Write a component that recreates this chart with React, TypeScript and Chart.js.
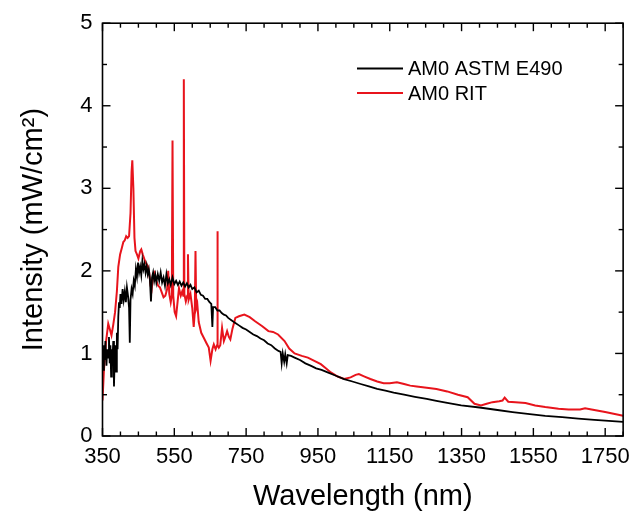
import React, { useEffect, useRef } from "react";
import { Chart, registerables } from "chart.js";

Chart.register(...registerables);

const FONT = "'Liberation Sans', Arial, sans-serif";

const xMajorTicks = [350, 550, 750, 950, 1150, 1350, 1550, 1750];
const yMajorTicks = [0, 1, 2, 3, 4, 5];
const seriesLabels = ["AM0 ASTM E490", "AM0 RIT"];
const xTitle = "Wavelength (nm)";
const yTitle = "Intensity (mW/cm²)";

const astmWavelength = [
  350, 352, 354, 356, 358, 361, 363, 366, 368, 370, 372, 374, 376, 378, 380, 382, 384, 386, 388, 390,
  392, 394, 396, 398, 400, 403, 406, 409, 412, 415, 418, 421, 424, 426, 428, 431, 434, 437, 440, 443,
  446, 449, 452, 455, 458, 461, 464, 467, 470, 473, 476, 479, 482, 485, 488, 491, 494, 497, 500, 504,
  508, 512, 516, 520, 524, 528, 532, 536, 540, 545, 550, 555, 560, 565, 570, 575, 580, 585, 590, 595,
  600, 606, 612, 618, 624, 630, 636, 642, 648, 653, 656, 658, 664, 670, 676, 682, 688, 694, 700, 710,
  720, 730, 740, 750, 760, 770, 780, 790, 800, 810, 820, 830, 840, 846, 849, 852, 856, 859, 863, 866,
  875, 885, 900, 915, 931, 945, 960, 977, 1000, 1023, 1046, 1069, 1092, 1115, 1138, 1161, 1190, 1220, 1253, 1280,
  1310, 1349, 1400, 1450, 1492, 1540, 1583, 1630, 1675, 1720, 1760, 1800,
];
const astmIntensity = [
  1.05, 0.8, 1.1, 0.92, 1.15, 0.85, 1.05, 0.95, 1.2, 0.88, 1.1, 0.72, 1.05, 0.95, 1.15, 0.6, 0.95, 1.1, 0.78, 1.25,
  1.05, 1.45, 1.62, 1.55, 1.72, 1.6, 1.78, 1.65, 1.75, 1.62, 1.8, 1.7, 1.55, 1.13, 1.65, 1.78, 1.72, 1.88, 1.82, 2.02,
  1.93, 2.1, 1.98, 2.05, 1.95, 2.12, 2.02, 2.08, 1.98, 2.06, 1.96, 2.02, 1.9, 1.63, 1.92, 1.98, 1.88, 1.95, 1.86, 1.96,
  1.88, 1.98, 1.86, 1.92, 1.82, 1.96, 1.85, 1.9, 1.83, 1.92, 1.84, 1.88, 1.83, 1.87, 1.82, 1.86, 1.81, 1.85, 1.8, 1.83,
  1.78, 1.8, 1.74, 1.76, 1.71, 1.7, 1.66, 1.66, 1.62, 1.6, 1.32, 1.56, 1.56, 1.52, 1.52, 1.49, 1.47, 1.46, 1.43, 1.4,
  1.37, 1.34, 1.31, 1.29, 1.26, 1.23, 1.21, 1.18, 1.16, 1.12, 1.1, 1.06, 1.03, 1.02, 0.88, 1.0, 0.9, 0.99, 0.88, 0.98,
  0.97, 0.95, 0.92, 0.88, 0.85, 0.82, 0.8, 0.77, 0.73, 0.69, 0.66, 0.63, 0.6, 0.57, 0.55, 0.525, 0.5, 0.475, 0.45, 0.425,
  0.4, 0.37, 0.345, 0.315, 0.29, 0.265, 0.245, 0.228, 0.21, 0.195, 0.182, 0.17,
];

const ritWavelength = [
  350, 354, 360, 366, 370, 375, 380, 385, 390, 394, 399, 404, 408, 412, 416, 420, 424, 428, 431, 433,
  436, 439, 442, 446, 450, 455, 458, 462, 466, 470, 476, 480, 484, 487, 491, 495, 500, 505, 510, 515,
  520, 525, 530, 533, 536, 540, 543, 545, 547, 551, 555, 559, 563, 568, 572, 575, 576.5, 578, 582, 586,
  588, 590, 595, 600, 604, 607, 609, 611, 614, 618, 625, 632, 640, 646, 651, 656, 660, 665, 669, 670,
  671, 674, 678, 683, 688, 692, 697, 702, 706, 712, 720, 730, 745, 760, 775, 795, 812, 825, 839, 857,
  870, 885, 905, 922, 940, 958, 972, 986, 1005, 1023, 1041, 1055, 1064, 1080, 1096, 1115, 1133, 1150, 1170, 1190,
  1207, 1225, 1253, 1280, 1310, 1340, 1367, 1386, 1404, 1420, 1436, 1455, 1464, 1470, 1480, 1500, 1528, 1555, 1583, 1620,
  1648, 1680, 1694, 1712, 1750, 1800,
];
const ritIntensity = [
  0.43, 0.8, 1.15, 1.36, 1.3, 1.22, 1.35, 1.5, 1.75, 2.05, 2.2, 2.28, 2.35, 2.37, 2.42, 2.4, 2.42, 2.7, 3.2, 3.34,
  3.0, 2.4, 2.24, 2.2, 2.15, 2.24, 2.26, 2.2, 2.15, 2.1, 2.06, 1.98, 1.82, 1.78, 1.95, 1.98, 1.88, 1.82, 1.8, 1.74,
  1.68, 1.7, 1.78, 2.0, 1.72, 1.62, 1.7, 3.58, 1.7, 1.5, 1.45, 1.62, 1.79, 1.7, 1.75, 1.7, 4.32, 1.72, 1.63, 1.7,
  2.2, 1.65, 1.72, 1.55, 1.32, 1.5, 2.24, 1.55, 1.6, 1.38, 1.25, 1.19, 1.12, 1.07, 0.91, 1.05, 1.11, 1.05, 1.1, 2.48,
  1.1, 1.07, 1.1, 1.31, 1.15, 1.2, 1.27, 1.2, 1.17, 1.3, 1.43, 1.45, 1.47, 1.44, 1.39, 1.33, 1.27, 1.26, 1.23, 1.15,
  1.06, 1.0, 0.97, 0.95, 0.91, 0.87, 0.82, 0.77, 0.72, 0.69, 0.71, 0.74, 0.75, 0.72, 0.69, 0.66, 0.64, 0.64, 0.65, 0.63,
  0.61, 0.6, 0.585, 0.57, 0.54, 0.5, 0.47, 0.39, 0.37, 0.39, 0.41, 0.42, 0.43, 0.465, 0.415, 0.41, 0.4, 0.37, 0.35, 0.33,
  0.32, 0.32, 0.336, 0.32, 0.29, 0.245,
];

const seriesColors = ["#000000", "#e8141c"];

const framePlugin = {
  id: "frameTicksLegend",
  afterDraw(chart: any) {
    const { ctx, chartArea: a, scales } = chart;
    const xs = scales.x;
    const ys = scales.y;
    ctx.save();
    ctx.strokeStyle = "#000";
    ctx.lineWidth = 1.6;
    ctx.strokeRect(a.left, a.top, a.right - a.left, a.bottom - a.top);
    const seg = (x1: number, y1: number, x2: number, y2: number) => {
      ctx.beginPath();
      ctx.moveTo(x1, y1);
      ctx.lineTo(x2, y2);
      ctx.stroke();
    };
    ctx.lineWidth = 1.4;
    for (let v = xs.min; v <= xs.max; v += 50) {
      const len = xMajorTicks.includes(v) ? 8 : 4.5;
      const px = xs.getPixelForValue(v);
      seg(px, a.bottom, px, a.bottom - len);
      seg(px, a.top, px, a.top + len);
    }
    for (let v = ys.min; v <= ys.max + 1e-9; v += 0.5) {
      const len = yMajorTicks.includes(v) ? 8 : 4.5;
      const py = ys.getPixelForValue(v);
      seg(a.left, py, a.left + len, py);
      seg(a.right, py, a.right - len, py);
    }
    // legend
    const lx = 357;
    const rows = [68.5, 93];
    ctx.font = `20px ${FONT}`;
    ctx.textBaseline = "middle";
    ctx.textAlign = "left";
    chart.data.datasets.forEach((ds: any, i: number) => {
      ctx.strokeStyle = ds.borderColor;
      ctx.lineWidth = 1.8;
      seg(lx, rows[i], lx + 46, rows[i]);
      ctx.fillStyle = "#000";
      ctx.fillText(ds.label, lx + 51, rows[i] + 1);
    });
    ctx.restore();
  },
};

export default function App() {
  const ref = useRef<HTMLCanvasElement>(null);
  useEffect(() => {
    document.body.style.margin = "0";
    const canvas = ref.current!;
    const chart = new Chart(canvas, {
      type: "line",
      data: {
        datasets: [
          {
            label: seriesLabels[0],
            data: astmWavelength.map((x, i) => ({ x, y: astmIntensity[i] })),
            borderColor: seriesColors[0],
            borderWidth: 1.8,
            pointRadius: 0,
            tension: 0,
            fill: false,
          },
          {
            label: seriesLabels[1],
            data: ritWavelength.map((x, i) => ({ x, y: ritIntensity[i] })),
            borderColor: seriesColors[1],
            borderWidth: 2,
            pointRadius: 0,
            tension: 0,
            fill: false,
          },
        ],
      },
      options: {
        animation: false,
        responsive: false,
        devicePixelRatio: 1,
        layout: { padding: { top: 20, right: 10, left: 0, bottom: 0 } },
        plugins: { legend: { display: false }, tooltip: { enabled: false } },
        scales: {
          x: {
            type: "linear",
            min: 350,
            max: 1800,
            grid: { display: false, drawTicks: false, tickLength: 0 },
            border: { display: false },
            afterBuildTicks: (s: any) => {
              s.ticks = xMajorTicks.map((v) => ({ value: v }));
            },
            afterFit: (s: any) => {
              s.height = 81;
            },
            ticks: {
              padding: 8,
              autoSkip: false,
              maxRotation: 0,
              color: "#000",
              font: { family: FONT, size: 22 },
              callback: (v: any) => String(v),
            },
            title: {
              display: true,
              text: xTitle,
              color: "#000",
              font: { family: FONT, size: 29 },
              padding: { top: 0, bottom: 3 },
            },
          },
          y: {
            type: "linear",
            min: 0,
            max: 5,
            grid: { display: false, drawTicks: false, tickLength: 0 },
            border: { display: false },
            afterBuildTicks: (s: any) => {
              s.ticks = yMajorTicks.map((v) => ({ value: v }));
            },
            afterFit: (s: any) => {
              s.width = 102.5;
            },
            ticks: {
              padding: 10,
              color: "#000",
              font: { family: FONT, size: 22 },
              callback: (v: any) => String(v),
            },
            title: {
              display: true,
              text: yTitle,
              color: "#000",
              font: { family: FONT, size: 29 },
              padding: { top: 17, bottom: 0 },
            },
          },
        },
      },
      plugins: [framePlugin],
    });
    return () => chart.destroy();
  }, []);
  return <canvas ref={ref} width={638} height={517} style={{ display: "block" }} />;
}
